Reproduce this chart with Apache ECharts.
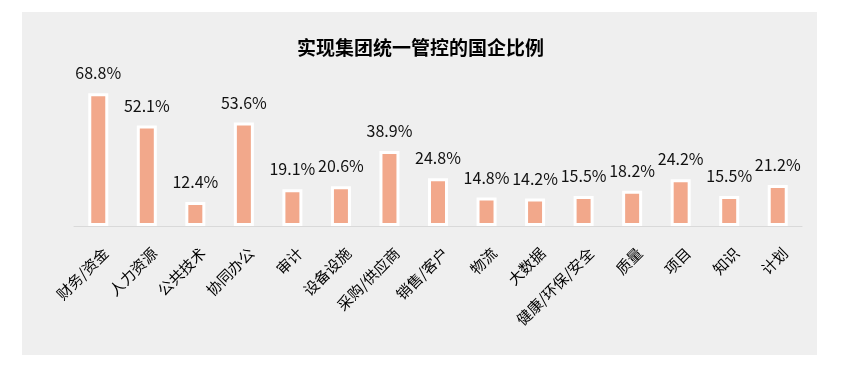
<!DOCTYPE html>
<html>
<head>
<meta charset="utf-8">
<script src="https://cdn.jsdelivr.net/npm/echarts@6/dist/echarts.min.js"></script>
<style>
html,body{margin:0;padding:0;background:#fff;}
#c{width:841px;height:373px;}
</style>
</head>
<body>
<div id="c"></div>
<script>
const titleText = '实现集团统一管控的国企比例';
const categories = ['财务/资金','人力资源','公共技术','协同办公','审计','设备设施','采购/供应商','销售/客户','物流','大数据','健康/环保/安全','质量','项目','知识','计划'];
const values = [68.8, 52.1, 12.4, 53.6, 19.1, 20.6, 38.9, 24.8, 14.8, 14.2, 15.5, 18.2, 24.2, 15.5, 21.2];

const FONT = '"Noto Sans CJK SC", "Noto Sans", sans-serif';
const chart = echarts.init(document.getElementById('c'), null, {renderer: 'canvas'});
chart.setOption({
  backgroundColor: '#ffffff',
  animation: false,
  graphic: [{
    type: 'rect', z: -10, silent: true,
    shape: {x: 22, y: 12, width: 795, height: 343},
    style: {fill: '#efefef'}
  }],
  title: {
    text: titleText,
    left: 'center',
    top: 33,
    textStyle: {fontFamily: FONT, fontSize: 19, fontWeight: 'bold', color: '#000'}
  },
  grid: {left: 74, right: 39, top: 33, bottom: 147, containLabel: false},
  xAxis: {
    type: 'category',
    data: categories,
    axisLine: {show: true, lineStyle: {color: '#d9d9d9', width: 1}},
    axisTick: {show: false},
    axisLabel: {rotate: 45, interval: 0, fontFamily: FONT, fontSize: 15, color: '#000',
                margin: 17, verticalAlign: 'top', align: 'right', padding: [3, 0, 0, 0]}
  },
  yAxis: {
    type: 'value', min: 0, max: 100, show: false,
    splitLine: {show: false}
  },
  series: [{
    type: 'bar',
    data: values,
    barWidth: 20,
    itemStyle: {color: '#f2a88b', borderColor: '#ffffff', borderWidth: 3},
    label: {
      show: true, position: 'top', distance: 12,
      formatter: p => p.value.toFixed(1) + '%',
      fontFamily: FONT, fontSize: 16, color: '#111'
    }
  }]
});
</script>
</body>
</html>
